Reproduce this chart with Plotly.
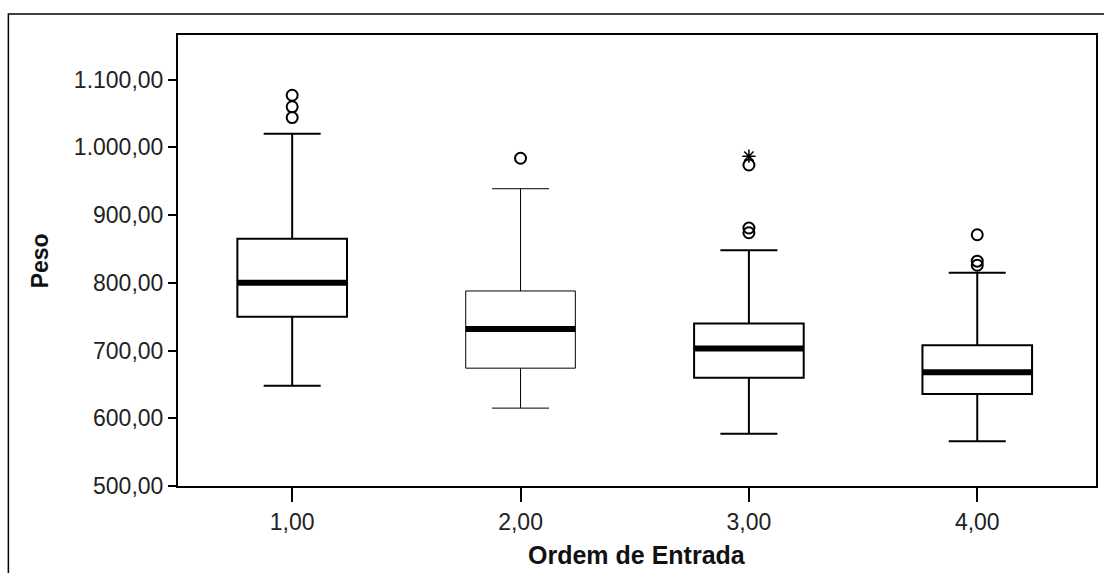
import plotly.graph_objects as go

groups = [1, 2, 3, 4]
group_labels = ["1,00", "2,00", "3,00", "4,00"]
q1 = [750, 674, 660, 636]
median = [800, 732, 703, 668]
q3 = [865, 788, 740, 708]
lower_whisker = [648, 615, 577, 566]
upper_whisker = [1020, 939, 848, 815]

outlier_x = [1, 1, 1, 2, 3, 3, 3, 4, 4, 4]
outlier_y = [1077, 1060, 1044, 984, 974, 881, 874, 871, 832, 826]
extreme_x = [3]
extreme_y = [987]

y_ticks = [500, 600, 700, 800, 900, 1000, 1100]
y_tick_labels = ["500,00", "600,00", "700,00", "800,00", "900,00", "1.000,00", "1.100,00"]

box_line_widths = [2, 1, 2, 2]
box_width = 0.48
half = box_width / 2

fig = go.Figure()
for i, g in enumerate(groups):
    fig.add_trace(go.Box(
        x=[g], q1=[q1[i]], median=[median[i]], q3=[q3[i]],
        lowerfence=[lower_whisker[i]], upperfence=[upper_whisker[i]],
        width=box_width, whiskerwidth=0.52,
        fillcolor="white", line=dict(color="black", width=box_line_widths[i]),
        boxpoints=False, showlegend=False, hoverinfo="skip",
    ))
    fig.add_trace(go.Scatter(
        x=[g - half, g + half], y=[median[i], median[i]], mode="lines",
        line=dict(color="black", width=6), showlegend=False, hoverinfo="skip",
    ))

fig.add_trace(go.Scatter(
    x=outlier_x, y=outlier_y, mode="markers",
    marker=dict(symbol="circle-open", size=11, color="black", line=dict(width=2)),
    showlegend=False,
))
fig.add_trace(go.Scatter(
    x=extreme_x, y=extreme_y, mode="markers",
    marker=dict(symbol="asterisk-open", size=11, color="black", line=dict(width=1.5)),
    showlegend=False,
))

fam = "Liberation Sans, Arial, sans-serif"
font = dict(family=fam, size=22, color="#222")

fig.update_layout(
    width=1104, height=573,
    margin=dict(l=178, r=6, t=35, b=87),
    paper_bgcolor="white", plot_bgcolor="white",
    font=font,
    xaxis=dict(
        range=[0.5, 4.52], tickvals=groups, ticktext=group_labels,
        showgrid=False, zeroline=False, showline=True, linecolor="black", linewidth=2,
        mirror=True, ticks="outside", ticklen=14, tickwidth=1.5, tickcolor="black",
        tickfont=dict(size=23),
    ),
    yaxis=dict(
        range=[500, 1166], tickvals=y_ticks, ticktext=y_tick_labels,
        showgrid=False, zeroline=False, showline=True, linecolor="black", linewidth=2,
        mirror=True, ticks="outside", ticklen=8, tickwidth=1.5, tickcolor="black",
        tickfont=dict(size=23),
    ),
    annotations=[
        dict(text="<b>Ordem de Entrada</b>", xref="paper", yref="paper",
             x=0.5, y=(486 - 555) / 451, xanchor="center", yanchor="middle",
             showarrow=False, font=dict(family=fam, size=25, color="#111")),
        dict(text="<b>Peso</b>", xref="paper", yref="paper",
             x=(40 - 178) / 920, y=(486 - 261) / 451, xanchor="center", yanchor="middle",
             textangle=-90, showarrow=False, font=dict(family=fam, size=23, color="#111")),
    ],
    shapes=[dict(
        type="rect", xref="paper", yref="paper",
        x0=-170 / 920, x1=1.1, y0=-0.5, y1=(486 - 14) / 451,
        line=dict(color="black", width=1.5), fillcolor="rgba(0,0,0,0)", layer="below",
    )],
)

fig.write_html("out.html")
